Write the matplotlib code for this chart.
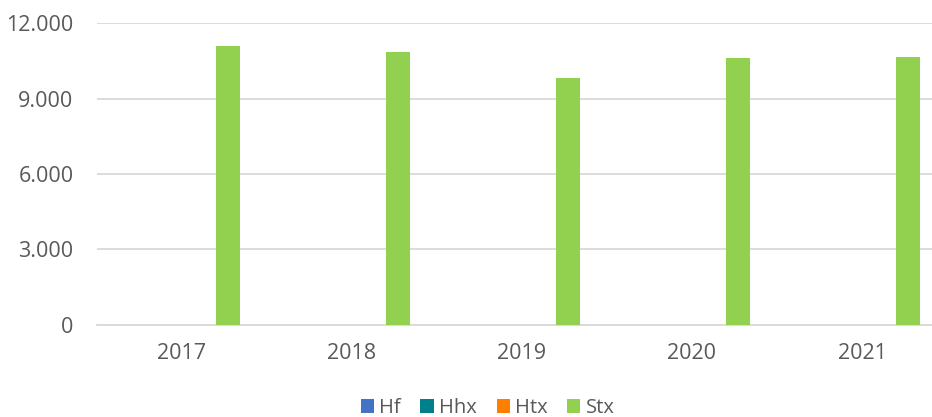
import numpy as np
import matplotlib
matplotlib.use("Agg")
import matplotlib.pyplot as plt
from matplotlib.ticker import FuncFormatter

# data
years = ["2017", "2018", "2019", "2020", "2021"]
hf = [0, 0, 0, 0, 0]
hhx = [0, 0, 0, 0, 0]
htx = [0, 0, 0, 0, 0]
stx = [11080, 10850, 9820, 10620, 10640]

series_names = ["Hf", "Hhx", "Htx", "Stx"]
series_values = [hf, hhx, htx, stx]
colors = ["#4472C4", "#00808A", "#FF8000", "#92D050"]

plt.rcParams['font.family'] = ['Open Sans', 'DejaVu Sans']
text_color = "#595959"

fig = plt.figure(figsize=(9.32, 4.17), dpi=100)
# plot area runs past the right edge, as in the reference
ax = fig.add_axes([97 / 932, (417 - 324.7) / 417, 850 / 932, 301.4 / 417])

x = np.arange(len(years))
width = 0.141
step = 0.18
for i, (name, vals, c) in enumerate(zip(series_names, series_values, colors)):
  ax.bar(x + (i - 1.5) * step, vals, width, color=c, label=name, zorder=3)

ax.set_xlim(-0.5, len(years) - 0.5)
ax.set_ylim(0, 12000)
ax.set_yticks([0, 3000, 6000, 9000, 12000])
ax.yaxis.set_major_formatter(FuncFormatter(lambda v, p: "{:,.0f}".format(v).replace(",", ".")))
ax.set_xticks(x)
ax.set_xticklabels(years)

ax.grid(axis='y', color="#D9D9D9", linewidth=1.3, zorder=0)
for s in ["top", "right", "left"]:
  ax.spines[s].set_visible(False)
ax.spines["bottom"].set_color("#D9D9D9")
ax.spines["bottom"].set_linewidth(1.3)

ax.tick_params(axis='both', length=0, labelsize=15.5, colors=text_color)
ax.tick_params(axis='y', pad=17)
ax.tick_params(axis='x', pad=13)

leg = fig.legend(loc="center", bbox_to_anchor=(487.5 / 932, 1 - 408 / 417), ncol=4,
                 frameon=False, fontsize=14.5, handlelength=0.65, handleheight=0.65,
                 handletextpad=0.25, columnspacing=1.0)
for t in leg.get_texts():
  t.set_color(text_color)

fig.savefig("out.png", dpi=100)
